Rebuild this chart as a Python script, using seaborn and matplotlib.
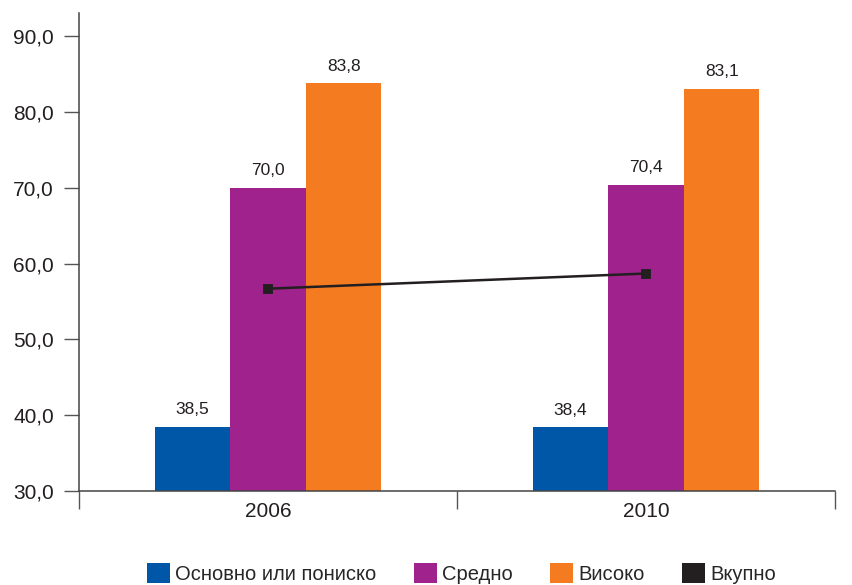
import matplotlib
matplotlib.use("Agg")
import matplotlib.pyplot as plt
import seaborn as sns
import pandas as pd
from matplotlib.patches import Patch

years = ["2006", "2010"]
levels = ["Основно или пониско", "Средно", "Високо"]
basic = [38.5, 38.4]
secondary = [70.0, 70.4]
higher = [83.8, 83.1]
total = [56.7, 58.7]
total_label = "Вкупно"
yticks = [30, 40, 50, 60, 70, 80, 90]

colors = ["#0057A8", "#A0228C", "#F47B20"]
line_color = "#231F20"

df = pd.DataFrame({
    "year": years * 3,
    "level": [levels[0]] * 2 + [levels[1]] * 2 + [levels[2]] * 2,
    "value": basic + secondary + higher,
})

sns.set_style("white")
plt.rcParams["font.family"] = ["Liberation Sans", "DejaVu Sans"]

fig = plt.figure(figsize=(8.53, 5.85), dpi=100)
ax = fig.add_axes([0.0926, 0.1607, 0.979 - 0.0926, 0.978 - 0.1607])

sns.barplot(data=df, x="year", y="value", hue="level", hue_order=levels,
            palette=colors, width=0.6, saturation=1, ax=ax, legend=False,
            linewidth=0, edgecolor="none")

for cont in ax.containers:
    ax.bar_label(cont, labels=[f"{v:.1f}".replace(".", ",") for v in cont.datavalues],
                 padding=7, fontsize=12.5, color="#231F20")

tdf = pd.DataFrame({"year": years, "value": total})
sns.pointplot(data=tdf, x="year", y="value", color=line_color, markers="s",
              markersize=6, linewidth=1.8, ax=ax)

ax.set_ylim(30, 93.1)
ax.set_xlim(-0.5, 1.5)
ax.set_yticks(yticks)
ax.set_yticklabels([f"{v:.1f}".replace(".", ",") for v in yticks], fontsize=15, color="#231F20")

ax.set_xticks([-0.5, 0.5, 1.5])
ax.set_xticklabels([])
ax.set_xticks([0, 1], minor=True)
ax.set_xticklabels(years, minor=True, fontsize=15, color="#231F20")
ax.tick_params(axis="x", which="major", direction="out", length=13, width=1, color="#555555", bottom=True)
ax.tick_params(axis="x", which="minor", length=0, pad=8)
ax.tick_params(axis="y", direction="out", length=11, width=1, color="#555555", left=True, pad=7)

ax.set_xlabel("")
ax.set_ylabel("")
sns.despine(ax=ax)
for s in ["left", "bottom"]:
    ax.spines[s].set_color("#444444")
    ax.spines[s].set_linewidth(1.1)

handles = [Patch(facecolor=c, edgecolor="none") for c in colors] + [Patch(facecolor=line_color, edgecolor="none")]
labels = levels + [total_label]
fig.legend(handles, labels, loc="center", bbox_to_anchor=(0.541, 0.019), ncol=4, frameon=False,
           prop={"family": ["Liberation Sans", "DejaVu Sans"], "size": 14.5},
           handlelength=1.15, handleheight=1.15, handletextpad=0.25, columnspacing=1.85)

fig.savefig("out.png", dpi=100)
